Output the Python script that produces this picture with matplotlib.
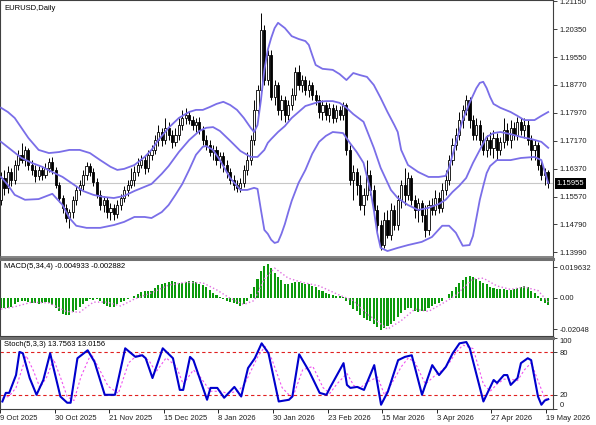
import matplotlib
matplotlib.use("Agg")
import matplotlib.pyplot as plt
import numpy as np

plt.rcParams["font.family"] = ["Liberation Sans", "DejaVu Sans"]

# x-axis labels, one every 16 daily bars
date_labels = ["9 Oct 2025", "30 Oct 2025", "21 Nov 2025", "15 Dec 2025", "8 Jan 2026",
               "30 Jan 2026", "23 Feb 2026", "15 Mar 2026", "3 Apr 2026", "27 Apr 2026",
               "19 May 2026"]
label_bars = [0, 16, 32, 48, 64, 80, 96, 112, 128, 144, 160]

opens = [
    1.1549, 1.1611, 1.1583, 1.1628, 1.1606, 1.1648, 1.1677, 1.1662, 1.1691, 1.1648,
    1.1634, 1.1617, 1.1634, 1.1620, 1.1640, 1.1657, 1.1634, 1.1591, 1.1554, 1.1526,
    1.1497, 1.1514, 1.1549, 1.1577, 1.1591, 1.1620, 1.1645, 1.1628, 1.1600, 1.1563,
    1.1534, 1.1549, 1.1514, 1.1526, 1.1509, 1.1534, 1.1554, 1.1577, 1.1591, 1.1606,
    1.1628, 1.1648, 1.1662, 1.1640, 1.1677, 1.1691, 1.1719, 1.1742, 1.1719, 1.1754,
    1.1734, 1.1714, 1.1734, 1.1762, 1.1782, 1.1791, 1.1776, 1.1762, 1.1771, 1.1748,
    1.1719, 1.1705, 1.1685, 1.1691, 1.1662, 1.1674, 1.1648, 1.1628, 1.1606, 1.1591,
    1.1583, 1.1597, 1.1634, 1.1662, 1.1719, 1.1805, 1.1862, 1.2033, 1.1890, 1.1961,
    1.1842, 1.1876, 1.1805, 1.1833, 1.1791, 1.1819, 1.1848, 1.1913, 1.1876, 1.1890,
    1.1862, 1.1876, 1.1848, 1.1833, 1.1799, 1.1819, 1.1791, 1.1811, 1.1782, 1.1805,
    1.1791, 1.1819, 1.1691, 1.1606, 1.1628, 1.1591, 1.1534, 1.1563, 1.1620, 1.1577,
    1.1520, 1.1477, 1.1421, 1.1492, 1.1449, 1.1520, 1.1477, 1.1549, 1.1591, 1.1563,
    1.1611, 1.1549, 1.1520, 1.1540, 1.1506, 1.1463, 1.1534, 1.1520, 1.1554, 1.1526,
    1.1577, 1.1606, 1.1662, 1.1705, 1.1734, 1.1776, 1.1805, 1.1833, 1.1776, 1.1734,
    1.1762, 1.1719, 1.1691, 1.1719, 1.1697, 1.1725, 1.1691, 1.1714, 1.1748, 1.1719,
    1.1754, 1.1734, 1.1771, 1.1748, 1.1762, 1.1719, 1.1691, 1.1705, 1.1648, 1.1620,
    1.1628,
]
highs = [
    1.1628, 1.1634, 1.1645, 1.1640, 1.1662, 1.1691, 1.1711, 1.1702, 1.1697, 1.1662,
    1.1648, 1.1645, 1.1645, 1.1654, 1.1668, 1.1671, 1.1643, 1.1600, 1.1563, 1.1537,
    1.1523, 1.1560, 1.1589, 1.1606, 1.1634, 1.1657, 1.1654, 1.1640, 1.1611, 1.1577,
    1.1560, 1.1557, 1.1540, 1.1537, 1.1549, 1.1566, 1.1589, 1.1606, 1.1640, 1.1645,
    1.1668, 1.1677, 1.1674, 1.1691, 1.1705, 1.1734, 1.1762, 1.1754, 1.1782, 1.1771,
    1.1748, 1.1754, 1.1782, 1.1805, 1.1811, 1.1802, 1.1788, 1.1782, 1.1785, 1.1759,
    1.1734, 1.1719, 1.1705, 1.1702, 1.1685, 1.1685, 1.1662, 1.1640, 1.1620, 1.1606,
    1.1611, 1.1648, 1.1685, 1.1734, 1.1833, 1.1876, 1.2081, 1.2047, 1.1976, 1.1976,
    1.1890, 1.1885, 1.1848, 1.1845, 1.1833, 1.1867, 1.1927, 1.1933, 1.1904, 1.1902,
    1.1890, 1.1885, 1.1862, 1.1848, 1.1833, 1.1828, 1.1825, 1.1822, 1.1819, 1.1816,
    1.1828, 1.1825, 1.1705, 1.1648, 1.1640, 1.1620, 1.1583, 1.1662, 1.1634, 1.1591,
    1.1534, 1.1492, 1.1514, 1.1520, 1.1540, 1.1534, 1.1563, 1.1606, 1.1640, 1.1628,
    1.1620, 1.1563, 1.1554, 1.1549, 1.1534, 1.1549, 1.1554, 1.1577, 1.1571, 1.1597,
    1.1634, 1.1677, 1.1725, 1.1754, 1.1799, 1.1819, 1.1848, 1.1842, 1.1791, 1.1782,
    1.1776, 1.1742, 1.1734, 1.1742, 1.1748, 1.1739, 1.1728, 1.1782, 1.1768, 1.1776,
    1.1771, 1.1785, 1.1782, 1.1782, 1.1776, 1.1734, 1.1719, 1.1714, 1.1662, 1.1640,
    1.1634,
]
lows = [
    1.1534, 1.1563, 1.1569, 1.1589, 1.1594, 1.1634, 1.1654, 1.1645, 1.1634, 1.1620,
    1.1600, 1.1606, 1.1606, 1.1611, 1.1628, 1.1623, 1.1583, 1.1543, 1.1512, 1.1486,
    1.1469, 1.1497, 1.1534, 1.1563, 1.1577, 1.1606, 1.1617, 1.1589, 1.1554, 1.1520,
    1.1514, 1.1497, 1.1492, 1.1492, 1.1497, 1.1520, 1.1543, 1.1560, 1.1583, 1.1589,
    1.1617, 1.1640, 1.1623, 1.1628, 1.1662, 1.1680, 1.1702, 1.1702, 1.1708, 1.1719,
    1.1697, 1.1702, 1.1719, 1.1748, 1.1765, 1.1765, 1.1748, 1.1742, 1.1736, 1.1705,
    1.1691, 1.1674, 1.1662, 1.1648, 1.1640, 1.1628, 1.1611, 1.1594, 1.1577, 1.1571,
    1.1571, 1.1586, 1.1620, 1.1648, 1.1705, 1.1791, 1.1848, 1.1876, 1.1876, 1.1833,
    1.1819, 1.1791, 1.1776, 1.1771, 1.1776, 1.1805, 1.1833, 1.1862, 1.1856, 1.1848,
    1.1842, 1.1833, 1.1819, 1.1782, 1.1776, 1.1776, 1.1771, 1.1768, 1.1771, 1.1776,
    1.1776, 1.1677, 1.1591, 1.1549, 1.1563, 1.1520, 1.1506, 1.1549, 1.1563, 1.1506,
    1.1449, 1.1406, 1.1412, 1.1440, 1.1435, 1.1463, 1.1463, 1.1526, 1.1534, 1.1549,
    1.1534, 1.1497, 1.1486, 1.1486, 1.1443, 1.1449, 1.1506, 1.1506, 1.1512, 1.1514,
    1.1563, 1.1591, 1.1648, 1.1691, 1.1719, 1.1754, 1.1791, 1.1754, 1.1719, 1.1719,
    1.1705, 1.1677, 1.1671, 1.1677, 1.1668, 1.1662, 1.1677, 1.1697, 1.1705, 1.1697,
    1.1719, 1.1719, 1.1734, 1.1725, 1.1705, 1.1662, 1.1662, 1.1634, 1.1606, 1.1591,
    1.1583,
]
closes = [
    1.1611, 1.1583, 1.1628, 1.1606, 1.1648, 1.1677, 1.1662, 1.1691, 1.1648, 1.1634,
    1.1617, 1.1634, 1.1620, 1.1640, 1.1657, 1.1634, 1.1591, 1.1554, 1.1526, 1.1497,
    1.1514, 1.1549, 1.1577, 1.1591, 1.1620, 1.1645, 1.1628, 1.1600, 1.1563, 1.1534,
    1.1549, 1.1514, 1.1526, 1.1509, 1.1534, 1.1554, 1.1577, 1.1591, 1.1606, 1.1628,
    1.1648, 1.1662, 1.1640, 1.1677, 1.1691, 1.1719, 1.1742, 1.1719, 1.1754, 1.1734,
    1.1714, 1.1734, 1.1762, 1.1782, 1.1791, 1.1776, 1.1762, 1.1771, 1.1748, 1.1719,
    1.1705, 1.1685, 1.1691, 1.1662, 1.1674, 1.1648, 1.1628, 1.1606, 1.1591, 1.1583,
    1.1597, 1.1634, 1.1662, 1.1719, 1.1805, 1.1862, 1.2033, 1.1890, 1.1961, 1.1842,
    1.1876, 1.1805, 1.1833, 1.1791, 1.1819, 1.1848, 1.1913, 1.1876, 1.1890, 1.1862,
    1.1876, 1.1848, 1.1833, 1.1799, 1.1819, 1.1791, 1.1811, 1.1782, 1.1805, 1.1791,
    1.1819, 1.1691, 1.1606, 1.1628, 1.1591, 1.1534, 1.1563, 1.1620, 1.1577, 1.1520,
    1.1477, 1.1421, 1.1492, 1.1449, 1.1520, 1.1477, 1.1549, 1.1591, 1.1563, 1.1611,
    1.1549, 1.1520, 1.1540, 1.1506, 1.1463, 1.1534, 1.1520, 1.1554, 1.1526, 1.1577,
    1.1606, 1.1662, 1.1705, 1.1734, 1.1776, 1.1805, 1.1833, 1.1776, 1.1734, 1.1762,
    1.1719, 1.1691, 1.1719, 1.1697, 1.1725, 1.1691, 1.1714, 1.1748, 1.1719, 1.1754,
    1.1734, 1.1771, 1.1748, 1.1762, 1.1719, 1.1691, 1.1705, 1.1648, 1.1620, 1.1628,
    1.15955,
]

# Bollinger bands, read at sample bars
bb_up_bar = [1, 3, 5, 9, 12, 15, 18, 21, 24, 27, 30, 33, 35, 37, 40, 43, 45, 47, 50, 53,
             56, 58, 60, 62, 64, 66, 68, 70, 72, 74, 75, 76, 77, 78, 79, 80, 81, 82, 84, 86,
             88, 90, 91, 92, 93, 95, 98, 100, 102, 104, 106, 108, 110, 112, 114, 116, 117,
             118, 120, 123, 126, 129, 131, 132, 134, 136, 138, 140, 141, 142, 143, 144, 145,
             147, 150, 152, 154, 157, 159, 161]
bb_up = [1.1811, 1.1799, 1.1782, 1.1725, 1.1691, 1.1682, 1.1685, 1.1691, 1.1691, 1.1682,
         1.1662, 1.1643, 1.1634, 1.1637, 1.1648, 1.1671, 1.1691, 1.1719, 1.1754, 1.1782,
         1.1799, 1.1805, 1.1805, 1.1813, 1.1822, 1.1828, 1.1819, 1.1805, 1.1782, 1.1754,
         1.1742, 1.1762, 1.1833, 1.1919, 1.1976, 1.2010, 1.2038, 1.2053, 1.2038, 1.2015,
         1.2007, 1.2001, 1.1990, 1.1961, 1.1933, 1.1922, 1.1919, 1.1907, 1.1890, 1.1910,
         1.1904, 1.1899, 1.1876, 1.1839, 1.1799, 1.1762, 1.1742, 1.1691, 1.1648, 1.1628,
         1.1614, 1.1614, 1.1617, 1.1640, 1.1711, 1.1776, 1.1825, 1.1867, 1.1882, 1.1885,
         1.1867, 1.1842, 1.1822, 1.1811, 1.1799, 1.1788, 1.1776, 1.1776, 1.1788, 1.1799]
bb_mid_bar = [1, 4, 7, 10, 13, 16, 19, 22, 25, 28, 31, 34, 37, 40, 43, 45, 48, 50, 53, 56,
              59, 61, 63, 65, 68, 71, 74, 76, 78, 79, 80, 82, 84, 86, 88, 90, 92, 94, 96, 98,
              100, 102, 104, 107, 110, 112, 115, 117, 120, 123, 126, 129, 131, 133, 135, 137,
              139, 141, 143, 145, 147, 150, 153, 156, 159, 161]
bb_mid = [1.1714, 1.1691, 1.1668, 1.1654, 1.1643, 1.1628, 1.1614, 1.1594, 1.1574, 1.1563,
          1.1557, 1.1554, 1.1560, 1.1574, 1.1586, 1.1594, 1.1623, 1.1645, 1.1685, 1.1719,
          1.1745, 1.1754, 1.1756, 1.1745, 1.1717, 1.1688, 1.1671, 1.1671, 1.1691, 1.1711,
          1.1722, 1.1742, 1.1759, 1.1782, 1.1799, 1.1816, 1.1822, 1.1828, 1.1830, 1.1830,
          1.1825, 1.1811, 1.1793, 1.1771, 1.1697, 1.1640, 1.1577, 1.1554, 1.1534, 1.1520,
          1.1526, 1.1537, 1.1549, 1.1571, 1.1589, 1.1611, 1.1654, 1.1691, 1.1728, 1.1739,
          1.1742, 1.1736, 1.1728, 1.1722, 1.1714, 1.1697]
bb_low_bar = [1, 3, 5, 8, 12, 16, 19, 21, 23, 26, 30, 34, 37, 40, 43, 45, 48, 50, 52, 54,
              56, 58, 60, 61, 63, 65, 68, 71, 73, 75, 76, 77, 78, 79, 80, 81, 82, 83, 84, 85,
              86, 88, 90, 92, 94, 96, 98, 101, 103, 105, 107, 109, 110, 111, 112, 114, 117,
              120, 124, 127, 130, 132, 134, 136, 138, 139, 140, 141, 142, 143, 144, 146, 150,
              153, 157, 159, 161]
bb_low = [1.1614, 1.1591, 1.1563, 1.1549, 1.1551, 1.1566, 1.1534, 1.1497, 1.1475, 1.1469,
          1.1469, 1.1477, 1.1486, 1.1500, 1.1500, 1.1497, 1.1514, 1.1534, 1.1563, 1.1594,
          1.1634, 1.1677, 1.1700, 1.1702, 1.1691, 1.1662, 1.1611, 1.1577, 1.1577, 1.1583,
          1.1580, 1.1520, 1.1463, 1.1452, 1.1435, 1.1426, 1.1429, 1.1452, 1.1480, 1.1514,
          1.1546, 1.1597, 1.1634, 1.1680, 1.1714, 1.1731, 1.1742, 1.1739, 1.1711, 1.1685,
          1.1654, 1.1577, 1.1520, 1.1455, 1.1412, 1.1403, 1.1412, 1.1420, 1.1429, 1.1443,
          1.1475, 1.1475, 1.1455, 1.1418, 1.1420, 1.1446, 1.1497, 1.1549, 1.1588, 1.1625,
          1.1645, 1.1662, 1.1662, 1.1668, 1.1671, 1.1662, 1.1597]

macd_hist = [
    -0.0065, -0.0070, -0.0068, -0.0060, -0.0040, -0.0030, -0.0025, -0.0020, -0.0030, -0.0035,
    -0.0035, -0.0040, -0.0035, -0.0030, -0.0035, -0.0050, -0.0070, -0.0090, -0.0105, -0.0115,
    -0.0110, -0.0095, -0.0080, -0.0060, -0.0040, -0.0020, -0.0010, -0.0015, -0.0010, -0.0020,
    -0.0040, -0.0055, -0.0062, -0.0060, -0.0045, -0.0030, -0.0020, -0.0010, -0.0005, 0.0010,
    0.0025, 0.0035, 0.0040, 0.0040, 0.0045, 0.0060, 0.0080, 0.0090, 0.0095, 0.0100,
    0.0105, 0.0100, 0.0095, 0.0095, 0.0100, 0.0105, 0.0105, 0.0100, 0.0090, 0.0080,
    0.0065, 0.0050, 0.0030, 0.0015, 0.0005, -0.0010, -0.0020, -0.0030, -0.0035, -0.0045,
    -0.0053, -0.0040, -0.0020, 0.0020, 0.0070, 0.0120, 0.0170, 0.0205, 0.0218, 0.0190,
    0.0160, 0.0130, 0.0110, 0.0090, 0.0085, 0.0095, 0.0100, 0.0098, 0.0095, 0.0090,
    0.0085, 0.0075, 0.0065, 0.0050, 0.0040, 0.0030, 0.0020, 0.0015, 0.0010, 0.0008,
    0.0005, -0.0020, -0.0050, -0.0075, -0.0090, -0.0110, -0.0135, -0.0145, -0.0155, -0.0170,
    -0.0190, -0.0213, -0.0200, -0.0185, -0.0170, -0.0150, -0.0125, -0.0100, -0.0080, -0.0065,
    -0.0070, -0.0085, -0.0095, -0.0090, -0.0085, -0.0070, -0.0055, -0.0040, -0.0035, -0.0020,
    -0.0005, 0.0020, 0.0045, 0.0070, 0.0095, 0.0115, 0.0130, 0.0139, 0.0135, 0.0120,
    0.0105, 0.0095, 0.0085, 0.0068, 0.0062, 0.0058, 0.0055, 0.0052, 0.0050, 0.0048,
    0.0055, 0.0060, 0.0068, 0.0075, 0.0065, 0.0045, 0.0030, 0.0010, -0.0020, -0.0035,
    -0.004933,
]
macd_sig_bar = [1, 5, 10, 15, 20, 24, 28, 32, 36, 40, 45, 50, 55, 60, 64, 68, 72, 75, 78, 81,
                85, 89, 94, 100, 104, 108, 112, 114, 118, 122, 126, 130, 134, 139, 142, 146,
                150, 154, 158, 161]
macd_sig = [-0.0075, -0.0060, -0.0030, -0.0035, -0.0090, -0.0095, -0.0030, -0.0030, -0.0055,
            -0.0010, 0.0030, 0.0080, 0.0098, 0.0095, 0.0050, -0.0005, -0.0045, -0.0020, 0.0120,
            0.0190, 0.0125, 0.0098, 0.0075, 0.0015, -0.0020, -0.0105, -0.0170, -0.0205, -0.0150,
            -0.0075, -0.0090, -0.0040, 0.0015, 0.0120, 0.0125, 0.0075, 0.0052, 0.0068, 0.0045,
            -0.002882]

stoch_k_bar = [1, 2, 3, 5, 6, 7, 9, 11, 13, 15, 16, 18, 20, 21, 23, 26, 28, 31, 34, 37, 40,
               42, 43, 45, 48, 51, 53, 54, 56, 57, 61, 62, 64, 66, 69, 71, 73, 75, 77, 79, 82,
               85, 86, 88, 91, 94, 96, 97, 101, 102, 103, 105, 107, 110, 112, 114, 117, 119,
               121, 124, 127, 129, 131, 133, 135, 137, 138, 142, 145, 146, 148, 149, 150, 152,
               153, 155, 156, 158, 159, 160, 161]
stoch_k = [10.6, 22.7, 22.7, 47.8, 80.4, 78.5, 43.6, 20.0, 40.9, 78.5, 57.6, 17.6, 8.8, 8.8,
           71.5, 82.7, 66.4, 20.0, 20.0, 85.5, 73.4, 75.7, 71.5, 43.6, 85.5, 71.5, 26.9, 26.9,
           73.4, 68.8, 13.0, 29.7, 29.7, 15.8, 31.1, 17.6, 57.6, 71.5, 92.5, 78.5, 10.6, 13.0,
           17.6, 77.0, 52.4, 22.7, 20.0, 29.7, 64.6, 33.9, 29.7, 31.1, 26.9, 61.8, 6.0, 24.5,
           68.8, 73.4, 75.7, 20.0, 61.8, 47.8, 59.4, 78.5, 92.5, 94.3, 85.5, 10.6, 40.9, 36.7,
           47.8, 47.8, 33.9, 43.6, 64.6, 71.5, 68.8, 17.6, 6.0, 12.0, 13.7563]
stoch_d_bar = [1, 3, 5, 7, 8, 10, 12, 14, 16, 18, 20, 22, 24, 27, 29, 32, 35, 38, 41, 44, 46,
               49, 52, 54, 57, 59, 62, 65, 67, 70, 72, 74, 76, 78, 80, 83, 86, 89, 92, 95, 97,
               99, 102, 104, 106, 108, 111, 113, 115, 118, 120, 122, 125, 128, 130, 132, 134,
               136, 139, 142, 144, 146, 148, 150, 152, 154, 156, 158, 160, 161]
stoch_d = [15, 18, 30, 60, 75, 55, 30, 45, 70, 45, 17, 12, 45, 78, 60, 32, 22, 65, 78, 68, 52,
           72, 60, 35, 55, 45, 25, 25, 22, 25, 35, 55, 75, 88, 70, 30, 15, 55, 60, 30, 22, 35,
           50, 33, 30, 38, 45, 20, 35, 60, 72, 65, 35, 48, 55, 65, 80, 90, 85, 35, 25, 35, 42,
           42, 40, 55, 65, 40, 15, 13.0156]

main_ticks = [1.21150, 1.20350, 1.19550, 1.18770, 1.17970, 1.17170, 1.16370, 1.15570,
              1.14790, 1.13990]
last_price = 1.15955

W, H = 596, 425
fig = plt.figure(figsize=(W / 100, H / 100), dpi=100)
right = 553 / W


def panel(top_px, bot_px):
    ax = fig.add_axes([0, 1 - bot_px / H, right, (bot_px - top_px) / H])
    ax.set_xlim(0.7, 162.4)
    ax.yaxis.tick_right()
    ax.tick_params(axis="y", direction="out", length=3, width=0.6, pad=1.5,
                   labelsize=5.5, colors="#202020")
    for s in ax.spines.values():
        s.set_color("#404040")
        s.set_linewidth(0.8)
    return ax


ax = panel(0, 257)
ax2 = panel(259, 336)
ax3 = panel(338, 409)
for a in (ax, ax2):
    a.set_xticks([])
for a in (ax2, ax3):
    a.spines["top"].set_linewidth(2.2)
    a.spines["top"].set_color("#707070")
ax.spines["bottom"].set_linewidth(1.2)
ax.spines["bottom"].set_color("#707070")

# main price panel
bars = np.arange(1, len(closes) + 1)
o = np.array(opens)
c = np.array(closes)
up = c >= o
ax.vlines(bars, lows, highs, color="black", lw=0.7, zorder=2)
ax.bar(bars[up], (c - o)[up], bottom=o[up], width=0.62, facecolor="white",
       edgecolor="black", lw=0.6, zorder=3)
ax.bar(bars[~up], (o - c)[~up], bottom=c[~up], width=0.62, color="black",
       edgecolor="black", lw=0.6, zorder=3)
band_col = "#7a6ee8"
ax.plot(bb_up_bar, bb_up, color=band_col, lw=1.3, zorder=4)
ax.plot(bb_mid_bar, bb_mid, color=band_col, lw=1.3, zorder=4)
ax.plot(bb_low_bar, bb_low, color=band_col, lw=1.3, zorder=4)
ax.axhline(last_price, color="#c8c8c8", lw=0.8, zorder=1)
ax.set_ylim(1.1386, 1.2118)
ax.set_yticks(main_ticks)
ax.set_yticklabels([f"{v:.5f}" for v in main_ticks])
ax.text(1.006, last_price, f"{last_price:.5f}", transform=ax.get_yaxis_transform(),
        ha="left", va="center", fontsize=5.5, color="white", clip_on=False,
        bbox=dict(facecolor="black", edgecolor="none", pad=1.2))

# MACD panel
ax2.bar(bars, macd_hist, width=0.6, color="#0c9a0c", zorder=2)
ax2.plot(macd_sig_bar, macd_sig, color="#e070e0", ls=":", lw=1.0, zorder=3)
ax2.set_ylim(-0.0249, 0.0249)
ax2.set_yticks([0.019632, 0.0, -0.02048])
ax2.set_yticklabels(["0.019632", "0.00", "-0.02048"])

# Stochastic panel
for lvl in (80, 20):
    ax3.axhline(lvl, color="#e02020", lw=0.8, ls=(0, (3, 2.5)), zorder=1)
ax3.plot(stoch_d_bar, stoch_d, color="#f050f0", lw=0.8, ls=(0, (2, 2)), zorder=2)
ax3.plot(stoch_k_bar, stoch_k, color="#0000cd", lw=1.5, zorder=3)
ax3.set_ylim(0, 100)
ax3.set_yticks([100, 80, 20, 0])
ax3.set_yticklabels(["100", "80", "20", "0"])
tl = ax3.get_yticklabels()
tl[0].set_va("top")
tl[3].set_va("bottom")
ax3.set_xticks([b + 0.3 for b in label_bars])
ax3.set_xticklabels(date_labels, ha="left", fontsize=5.5, color="#202020")
ax3.tick_params(axis="x", direction="out", length=3, width=0.6, pad=1)

# panel captions
fig.text(4 / W, 1 - 8 / H, "EURUSD,Daily", fontsize=5.5, va="center")
fig.text(4 / W, 1 - 266 / H, "MACD(5,34,4) -0.004933 -0.002882", fontsize=5.5, va="center")
fig.text(4 / W, 1 - 344 / H, "Stoch(5,3,3) 13.7563 13.0156", fontsize=5.5, va="center")

fig.savefig("out.png", dpi=100, facecolor="white")
